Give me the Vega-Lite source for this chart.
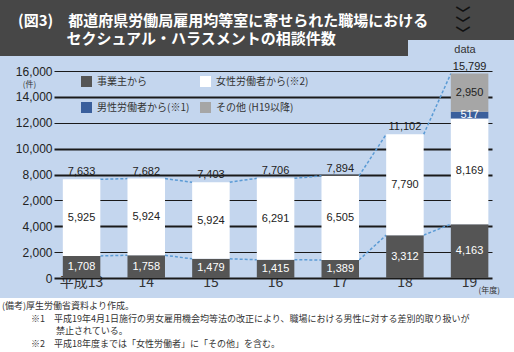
{
  "$schema": "https://vega.github.io/schema/vega-lite/v6.json",
  "background": "#c4d6ee",
  "padding": 0,
  "spacing": 0,
  "config": {"view": {"stroke": null}, "font": "Noto Sans CJK JP"},
  "datasets": {
    "segments": [
      {"year": "平成13", "cat": "事業主から", "value": 1708, "idx": 0},
      {"year": "平成13", "cat": "女性労働者から(※2)", "value": 5925, "idx": 1},
      {"year": "14", "cat": "事業主から", "value": 1758, "idx": 0},
      {"year": "14", "cat": "女性労働者から(※2)", "value": 5924, "idx": 1},
      {"year": "15", "cat": "事業主から", "value": 1479, "idx": 0},
      {"year": "15", "cat": "女性労働者から(※2)", "value": 5924, "idx": 1},
      {"year": "16", "cat": "事業主から", "value": 1415, "idx": 0},
      {"year": "16", "cat": "女性労働者から(※2)", "value": 6291, "idx": 1},
      {"year": "17", "cat": "事業主から", "value": 1389, "idx": 0},
      {"year": "17", "cat": "女性労働者から(※2)", "value": 6505, "idx": 1},
      {"year": "18", "cat": "事業主から", "value": 3312, "idx": 0},
      {"year": "18", "cat": "女性労働者から(※2)", "value": 7790, "idx": 1},
      {"year": "19", "cat": "事業主から", "value": 4163, "idx": 0},
      {"year": "19", "cat": "女性労働者から(※2)", "value": 8169, "idx": 1},
      {"year": "19", "cat": "男性労働者から(※1)", "value": 517, "idx": 2},
      {"year": "19", "cat": "その他 (H19以降)", "value": 2950, "idx": 3}
    ],
    "totals": [
      {"year": "平成13", "total": 7633},
      {"year": "14", "total": 7682},
      {"year": "15", "total": 7403},
      {"year": "16", "total": 7706},
      {"year": "17", "total": 7894},
      {"year": "18", "total": 11102},
      {"year": "19", "total": 15799}
    ],
    "links": [
      {"from": "平成13", "to": "14", "v_from": 1708, "v_to": 1758},
      {"from": "14", "to": "15", "v_from": 1758, "v_to": 1479},
      {"from": "15", "to": "16", "v_from": 1479, "v_to": 1415},
      {"from": "16", "to": "17", "v_from": 1415, "v_to": 1389},
      {"from": "17", "to": "18", "v_from": 1389, "v_to": 3312},
      {"from": "18", "to": "19", "v_from": 3312, "v_to": 4163},
      {"from": "平成13", "to": "14", "v_from": 7633, "v_to": 7682},
      {"from": "14", "to": "15", "v_from": 7682, "v_to": 7403},
      {"from": "15", "to": "16", "v_from": 7403, "v_to": 7706},
      {"from": "16", "to": "17", "v_from": 7706, "v_to": 7894},
      {"from": "17", "to": "18", "v_from": 7894, "v_to": 11102},
      {"from": "18", "to": "19", "v_from": 11102, "v_to": 15799}
    ]
  },
  "vconcat": [
    {
      "title": {
        "text": ["(図3)　都道府県労働局雇用均等室に寄せられた職場における", "\u200b　　　 セクシュアル・ハラスメントの相談件数"],
        "orient": "bottom", "anchor": "start", "frame": "bounds",
        "offset": -44, "baseline": "top", "dx": 18,
        "font": "Noto Sans CJK JP", "fontSize": 15, "fontWeight": "bold",
        "color": "#ffffff", "lineHeight": 18
      },
      "hconcat": [
        {
          "width": 408, "height": 56,
          "view": {"fill": "#474747", "stroke": null},
          "data": {"values": []},
          "mark": "point"
        },
        {
          "vconcat": [
            {
              "width": 106, "height": 40,
              "view": {"fill": "#474747", "stroke": null},
              "data": {"values": []},
              "mark": "point",
              "title": {
                "text": ["﹀", "﹀", "﹀"], "orient": "bottom", "anchor": "middle", "frame": "group",
                "offset": -33, "baseline": "top", "dx": 2, "lineHeight": 10,
                "font": "Noto Sans CJK JP", "fontSize": 15, "fontWeight": "bold", "color": "#111111"
              }
            },
            {
              "width": 106, "height": 16,
              "view": {"stroke": null},
              "data": {"values": []},
              "mark": "point",
              "title": {
                "text": "data", "orient": "bottom", "anchor": "middle", "frame": "group",
                "offset": -14, "baseline": "top", "dx": 4,
                "font": "Liberation Sans", "fontSize": 11, "fontWeight": "normal", "color": "#333333"
              }
            }
          ],
          "spacing": 0
        }
      ],
      "spacing": 0
    },
    {
      "width": 514, "height": 240,
      "view": {"stroke": null},
      "layer": [
        {
          "data": {"name": "links"},
          "mark": {"type": "rule", "color": "#5b9bd5", "strokeDash": [3, 2], "strokeWidth": 1.5},
          "encoding": {
            "x": {"field": "from", "type": "ordinal", "bandPosition": 1},
            "x2": {"field": "to", "bandPosition": 0},
            "y": {"field": "v_from", "type": "quantitative"},
            "y2": {"field": "v_to"}
          }
        },
        {
          "data": {"name": "segments"},
          "mark": {"type": "bar"},
          "encoding": {
            "x": {
              "field": "year", "type": "ordinal", "title": null,
              "scale": {"domain": ["平成13", "14", "15", "16", "17", "18", "19"], "paddingInner": 0.42, "paddingOuter": 0.684, "align": 0.71},
              "axis": {
                "orient": "bottom", "offset": -20, "domain": false, "ticks": false, "bandPosition": 0.5,
                "labelPadding": 4, "labelAngle": 0, "labelAlign": "center", "labelFont": "Noto Sans CJK JP",
                "labelFontSize": 14, "labelColor": "#333333"
              }
            },
            "y": {
              "field": "value", "type": "quantitative", "stack": "zero",
              "scale": {"domain": [0, 16000], "range": [220, 13], "nice": false},
              "axis": {
                "orient": "left", "offset": -54, "domain": false, "grid": false,
                "values": [0, 2000, 4000, 6000, 8000, 10000, 12000, 14000, 16000],
                "tickCount": 12,
                "labelExpr": "datum.value == 6000 ? '2,000' : format(datum.value, ',')",
                "labelOverlap": false,
                "tickSize": -438, "tickColor": "#1a1a1a",
                "tickWidth": {"condition": {"test": "datum.value == 0 || datum.value == 4000 || datum.value == 8000 || datum.value == 10000 || datum.value == 14000", "value": 2.2}, "value": 1},
                "labelPadding": 440, "labelFont": "Liberation Sans", "labelFontSize": 12, "labelColor": "#222222",
                "title": "(件)", "titleAngle": 0, "titleX": -25, "titleY": 26,
                "titleFont": "Noto Sans CJK JP", "titleFontSize": 8, "titleFontWeight": "normal",
                "titleColor": "#333333", "titleBaseline": "middle", "titleAlign": "center"
              }
            },
            "color": {
              "field": "cat", "type": "nominal",
              "scale": {
                "domain": ["事業主から", "女性労働者から(※2)", "男性労働者から(※1)", "その他 (H19以降)"],
                "range": ["#555555", "#ffffff", "#3a5f9c", "#a6a6a6"]
              },
              "legend": {
                "orient": "none", "legendX": 81, "legendY": 76, "direction": "horizontal",
                "columns": 2, "gridAlign": "none", "columnPadding": 10, "rowPadding": 15,
                "symbolType": "square", "symbolSize": 121, "symbolStrokeWidth": 0,
                "labelFont": "Noto Sans CJK JP", "labelFontSize": 10, "labelColor": "#333333",
                "labelOffset": 5, "title": null, "padding": 0
              }
            },
            "order": {"field": "idx", "type": "quantitative"}
          }
        },
        {
          "data": {"name": "segments"},
          "transform": [
            {"stack": "value", "groupby": ["year"], "sort": [{"field": "idx", "order": "ascending"}], "as": ["v0", "v1"]},
            {"calculate": "(datum.v0 + datum.v1) / 2", "as": "mid"}
          ],
          "mark": {"type": "text", "font": "Liberation Sans", "fontSize": 11, "baseline": "middle"},
          "encoding": {
            "x": {"field": "year", "type": "ordinal"},
            "y": {"field": "mid", "type": "quantitative"},
            "text": {"field": "value", "type": "quantitative", "format": ","},
            "color": {
              "condition": {"test": "datum.idx == 0 || datum.idx == 2", "value": "#ffffff"},
              "value": "#222222"
            }
          }
        },
        {
          "data": {"name": "totals"},
          "mark": {"type": "text", "font": "Liberation Sans", "fontSize": 11, "baseline": "bottom", "dy": -2, "color": "#222222"},
          "encoding": {
            "x": {"field": "year", "type": "ordinal"},
            "y": {"field": "total", "type": "quantitative"},
            "text": {"field": "total", "type": "quantitative", "format": ","}
          }
        },
        {
          "data": {"values": [{"year": "19", "t": "(年度)"}]},
          "mark": {"type": "text", "font": "Noto Sans CJK JP", "fontSize": 8, "align": "left", "baseline": "middle", "dx": 9, "dy": 13, "color": "#333333"},
          "encoding": {
            "x": {"field": "year", "type": "ordinal"},
            "y": {"datum": 0, "type": "quantitative"},
            "text": {"field": "t"}
          }
        }
      ]
    },
    {
      "width": 514, "height": 56,
      "view": {"fill": "#ffffff", "stroke": null},
      "data": {"values": []},
      "mark": "point",
      "title": {
        "text": [
          "(備考)厚生労働省資料より作成。",
          "\u200b　　　 ※1　平成19年4月1日施行の男女雇用機会均等法の改正により、職場における男性に対する差別的取り扱いが",
          "\u200b　　　　　　禁止されている。",
          "\u200b　　　 ※2　平成18年度までは「女性労働者」に「その他」を含む。"
        ],
        "orient": "bottom", "anchor": "start", "frame": "group",
        "offset": -52, "baseline": "top", "dx": 2,
        "font": "Noto Sans CJK JP", "fontSize": 9, "fontWeight": "normal",
        "color": "#333333", "lineHeight": 12.5
      }
    }
  ]
}
